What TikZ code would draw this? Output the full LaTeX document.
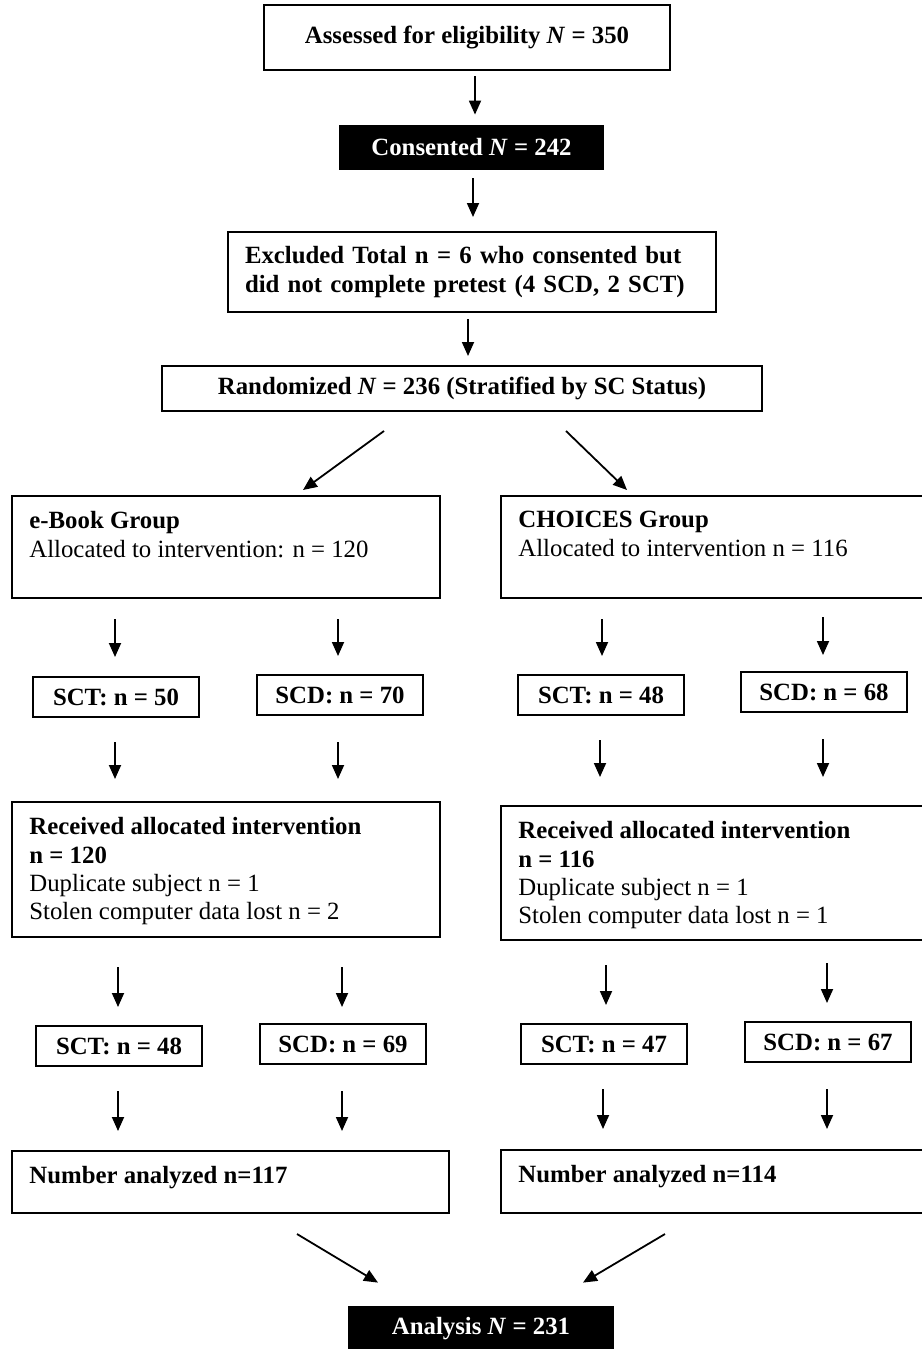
\documentclass[tikz,border=0pt]{standalone}
\usepackage{fontspec}
\setmainfont{Liberation Serif}
\usetikzlibrary{arrows.meta,calc,positioning}
\newcommand\flowfont{\fontsize{12.4}{14.2}\selectfont}

\tikzset{
  box/.style={draw,line width=1pt,inner sep=0pt,font=\flowfont\bfseries},
  darkbox/.style={fill=black,text=white,inner sep=0pt,font=\flowfont\bfseries},
  grpbox/.style={draw,line width=1pt,inner sep=0pt},
  grptext/.style={inner sep=0pt,align=left,font=\flowfont},
  arr/.style={line width=.9pt,-{Triangle[length=7pt,width=6pt]}}
}

\begin{document}
\begin{tikzpicture}[x=.5pt,y=-.5pt]
\useasboundingbox (0,0) rectangle (921,1349);
% top of the chart
\node[box,minimum width=203pt,minimum height=32.5pt] (assess) at (467,37.5) {Assessed for eligibility \textit{N} = 350};
\node[darkbox,minimum width=132.5pt,minimum height=22.5pt] (consent) at (471.5,147.5) {Consented \textit{N} = 242};
\node[box,minimum width=244pt,minimum height=40pt,text width=227pt,align=left] (excl) at (472,272) {Excluded Total n = 6 who consented but\\did not complete pretest (4 SCD, 2 SCT)};
\node[box,minimum width=300pt,minimum height=22.5pt] (random) at (462,388.5) {Randomized \textit{N} = 236 (Stratified by SC Status)};
\draw[arr] ($(assess.south)+(8,5)$) -- ($(consent.north)+(3.5,-10)$);
\draw[arr] ($(consent.south)+(1.5,8)$) -- ($(excl.north)+(1,-14)$);
\draw[arr] ($(excl.south)+(-4,6)$) -- ($(random.north)+(6,-9)$);
% groups
\node[grpbox,minimum width=214pt,minimum height=51pt] (ebook) at (226,547) {};
\node[grpbox,minimum width=212pt,minimum height=51pt] (choices) at (713,547) {};
\node[grptext,below right=8pt and 9pt of ebook.north west] (ebooktxt) {\textbf{e-Book Group}\\Allocated to intervention: n = 120};
\node[grptext,below right=8pt and 9pt of choices.north west] (choicestxt) {\textbf{CHOICES Group}\\Allocated to intervention n = 116};
\draw[arr] ($(random.south)+(-78,19)$) -- ($(ebook.north)+(77,-5)$);
\draw[arr] ($(random.south)+(104,19)$) -- ($(choices.north)+(-86,-5)$);
% SC status, first split
\node[box,minimum width=83pt,minimum height=20pt] (sctA) at (116,697) {SCT: n = 50};
\node[box,minimum width=83pt,minimum height=20pt] (scdA) at (340,695) {SCD: n = 70};
\node[box,minimum width=83pt,minimum height=20pt] (sctB) at (601,695) {SCT: n = 48};
\node[box,minimum width=83pt,minimum height=20pt] (scdB) at (824,692) {SCD: n = 68};
\draw[arr] ($(ebook.south -| sctA)+(-1,20)$) -- ($(sctA.north)+(-1,-19)$);
\draw[arr] ($(ebook.south -| scdA)+(-2,20)$) -- ($(scdA.north)+(-2,-18)$);
\draw[arr] ($(choices.south -| sctB)+(1,20)$) -- ($(sctB.north)+(1,-18)$);
\draw[arr] ($(choices.south -| scdB)+(-1,18)$) -- ($(scdB.north)+(-1,-16)$);
% received intervention
\node[grpbox,minimum width=214pt,minimum height=67.5pt] (recvA) at (226,869.5) {};
\node[grpbox,minimum width=212pt,minimum height=67pt] (recvB) at (713,873) {};
\node[grptext,below right=8pt and 9pt of recvA.north west] (recvAtxt) {\textbf{Received allocated intervention}\\\textbf{n = 120}\\Duplicate subject n = 1\\Stolen computer data lost n = 2};
\node[grptext,below right=8pt and 9pt of recvB.north west] (recvBtxt) {\textbf{Received allocated intervention}\\\textbf{n = 116}\\Duplicate subject n = 1\\Stolen computer data lost n = 1};
\draw[arr] ($(sctA.south)+(-1,24)$) -- ($(recvA.north -| sctA)+(-1,-22)$);
\draw[arr] ($(scdA.south)+(-2,26)$) -- ($(recvA.north -| scdA)+(-2,-22)$);
\draw[arr] ($(sctB.south)+(-1,24)$) -- ($(recvB.north -| sctB)+(-1,-28)$);
\draw[arr] ($(scdB.south)+(-1,26)$) -- ($(recvB.north -| scdB)+(-1,-28)$);
% SC status, second split
\node[box,minimum width=83pt,minimum height=20pt] (sctC) at (119,1046) {SCT: n = 48};
\node[box,minimum width=83pt,minimum height=20pt] (scdC) at (343,1044) {SCD: n = 69};
\node[box,minimum width=83pt,minimum height=20pt] (sctD) at (604,1044) {SCT: n = 47};
\node[box,minimum width=83pt,minimum height=20pt] (scdD) at (828,1042) {SCD: n = 67};
\draw[arr] ($(recvA.south -| sctC)+(-1,29)$) -- ($(sctC.north)+(-1,-18)$);
\draw[arr] ($(recvA.south -| scdC)+(-1,29)$) -- ($(scdC.north)+(-1,-16)$);
\draw[arr] ($(recvB.south -| sctD)+(2,24)$) -- ($(sctD.north)+(2,-18)$);
\draw[arr] ($(recvB.south -| scdD)+(-1,22)$) -- ($(scdD.north)+(-1,-18)$);
% analyzed
\node[grpbox,minimum width=218.5pt,minimum height=31pt] (numA) at (230.5,1182) {};
\node[grpbox,minimum width=212pt,minimum height=31.5pt] (numB) at (713,1181.5) {};
\node[grptext,below right=8pt and 9pt of numA.north west] (numAtxt) {\textbf{Number analyzed n=117}};
\node[grptext,below right=8pt and 9pt of numB.north west] (numBtxt) {\textbf{Number analyzed n=114}};
\draw[arr] ($(sctC.south)+(-1,24)$) -- ($(numA.north -| sctC)+(-1,-19)$);
\draw[arr] ($(scdC.south)+(-1,26)$) -- ($(numA.north -| scdC)+(-1,-19)$);
\draw[arr] ($(sctD.south)+(-1,24)$) -- ($(numB.north -| sctD)+(-1,-20)$);
\draw[arr] ($(scdD.south)+(-1,26)$) -- ($(numB.north -| scdD)+(-1,-20)$);
\node[darkbox,minimum width=133pt,minimum height=23pt] (analysis) at (481,1329) {Analysis \textit{N} = 231};
\draw[arr] ($(numA.south)+(66.5,20)$) -- ($(analysis.north)+(-103,-23)$);
\draw[arr] ($(numB.south)+(-48,20)$) -- ($(analysis.north)+(102,-23)$);
\end{tikzpicture}
\end{document}
